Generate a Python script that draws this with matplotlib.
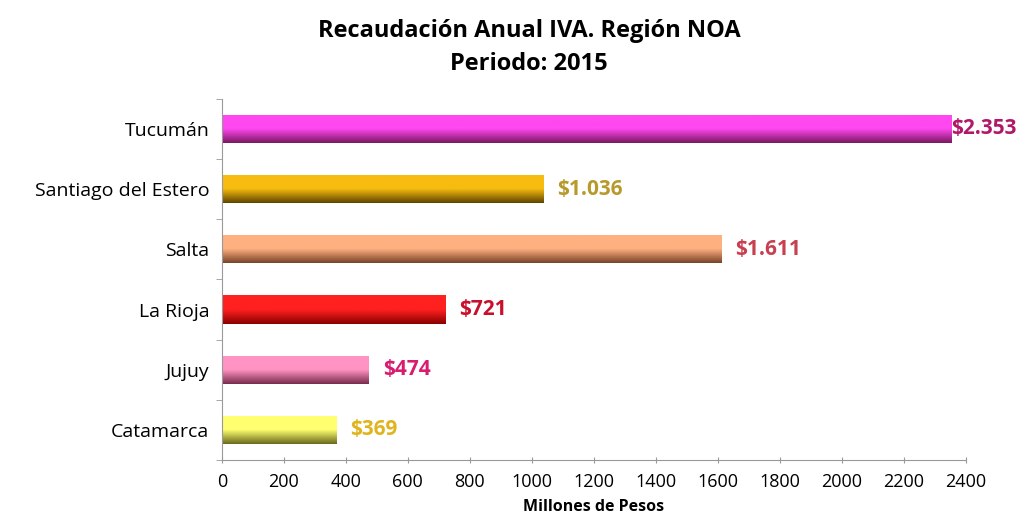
import numpy as np
import matplotlib.pyplot as plt
from matplotlib.colors import LinearSegmentedColormap

provincias = ["Catamarca", "Jujuy", "La Rioja", "Salta", "Santiago del Estero", "Tucumán"]
valores = [369, 474, 721, 1611, 1036, 2353]
etiquetas = ["$369", "$474", "$721", "$1.611", "$1.036", "$2.353"]
color_alto = ["#ffff70", "#ff94c4", "#ff2020", "#ffb080", "#f8bc10", "#ff48f0"]
color_bajo = ["#6a6a1c", "#7a2c4c", "#8a0000", "#7a4428", "#5e4600", "#7a1860"]
color_texto = ["#e0b41c", "#d81c70", "#c8102c", "#c84050", "#b89a2c", "#b01868"]
ticks_x = list(range(0, 2401, 200))

plt.rcParams['font.family'] = ['Open Sans', 'DejaVu Sans']

fig = plt.figure(figsize=(10.27, 5.16), dpi=100)
ax = fig.add_axes([0.216, 0.1085, 0.7245, 0.700])

alto = 0.47
y = np.arange(len(provincias))
bars = ax.barh(y, valores, height=alto, color="none", edgecolor="none")
grad = np.linspace(0, 1, 64).reshape(-1, 1)
for b, c1, c2 in zip(bars, color_alto, color_bajo):
    cmap = LinearSegmentedColormap.from_list("g", [c1, c1, c2])
    x0, y0 = b.get_x(), b.get_y()
    w, h = b.get_width(), b.get_height()
    im = ax.imshow(grad, cmap=cmap, aspect="auto", extent=[x0, x0 + w, y0, y0 + h],
                   origin="upper", zorder=2)
    im.set_clip_path(b)

# etiquetas de valor
for i, (v, t, c) in enumerate(zip(valores, etiquetas, color_texto)):
    off = 0 if v > 2300 else 45
    ax.text(v + off, i, t, va="center", ha="left", fontsize=15, fontweight="bold", color=c)

ax.set_xlim(0, 2400)
ax.set_ylim(-0.5, len(provincias) - 0.5)
ax.set_xticks(ticks_x)
ax.set_xticklabels([str(t) for t in ticks_x], fontsize=13)
ax.set_yticks(y)
ax.set_yticklabels(provincias, fontsize=14)
ax.set_yticks(np.arange(-0.5, len(provincias), 1), minor=True)
ax.tick_params(axis="y", which="major", length=0, pad=9)
ax.tick_params(axis="y", which="minor", length=4, color="#999999")
ax.tick_params(axis="x", length=4, direction="inout", color="#999999", pad=7)
for s in ["top", "right"]:
    ax.spines[s].set_visible(False)
for s in ["left", "bottom"]:
    ax.spines[s].set_color("#999999")
ax.set_xlabel("Millones de Pesos", fontsize=11.5, fontweight="bold", labelpad=6)

fig.text(0.515, 0.94, "Recaudación Anual IVA. Región NOA", ha="center", va="center",
         fontsize=17, fontweight="bold")
fig.text(0.515, 0.875, "Periodo: 2015", ha="center", va="center",
         fontsize=17, fontweight="bold")

fig.savefig("out.png", dpi=100)
